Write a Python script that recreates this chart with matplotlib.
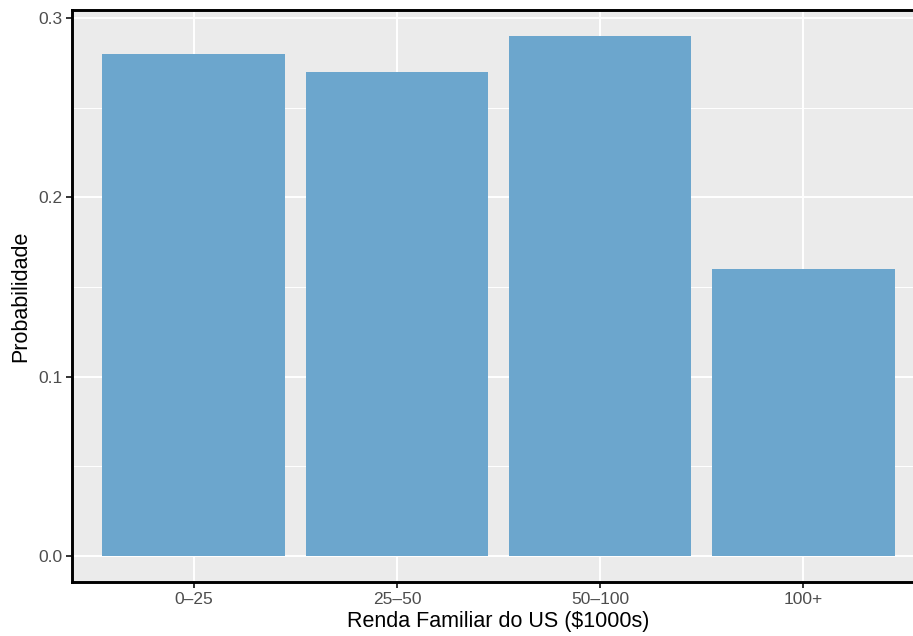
import matplotlib.pyplot as plt
from matplotlib.ticker import MultipleLocator

# dados
categorias = ["0\u201325", "25\u201350", "50\u2013100", "100+"]
probabilidades = [0.28, 0.27, 0.29, 0.16]
y_ticks = [0.0, 0.1, 0.2, 0.3]
y_tick_labels = ["0.0", "0.1", "0.2", "0.3"]

plt.rcParams['font.family'] = ['Liberation Sans', 'DejaVu Sans']

W, H = 913, 636
fig = plt.figure(figsize=(W / 100, H / 100), dpi=100)
# eixo estende-se para além da margem direita (corte como no original)
left, right, top, bottom = 72, 925, 10, 582
ax = fig.add_axes([left / W, 1 - bottom / H, (right - left) / W, (bottom - top) / H])

ax.set_facecolor('#EBEBEB')
pos = list(range(len(categorias)))
ax.bar(pos, probabilidades, width=0.9, color='#6CA6CD', zorder=3)

ax.set_xlim(-0.6, len(categorias) - 1 + 0.6)
ax.set_ylim(-0.0145, 0.3045)
ax.set_xticks(pos)
ax.set_xticklabels(categorias)
ax.set_yticks(y_ticks)
ax.set_yticklabels(y_tick_labels)
ax.yaxis.set_minor_locator(MultipleLocator(0.05))

ax.grid(which='major', color='white', linewidth=1.4, zorder=1)
ax.grid(which='minor', axis='y', color='white', linewidth=0.7, zorder=1)
ax.set_axisbelow(True)

for s in ax.spines.values():
    s.set_color('black')
    s.set_linewidth(2.1)

ax.tick_params(axis='both', which='major', length=4, width=1.4, color='#333333',
               labelsize=12.5, labelcolor='#4D4D4D', pad=3)
ax.tick_params(axis='both', which='minor', length=0)

ax.set_xlabel('Renda Familiar do US ($1000s)', fontsize=15.5, color='black', labelpad=3)
ax.set_ylabel('Probabilidade', fontsize=15.5, color='black', labelpad=5)

fig.savefig('out.png', dpi=100)
